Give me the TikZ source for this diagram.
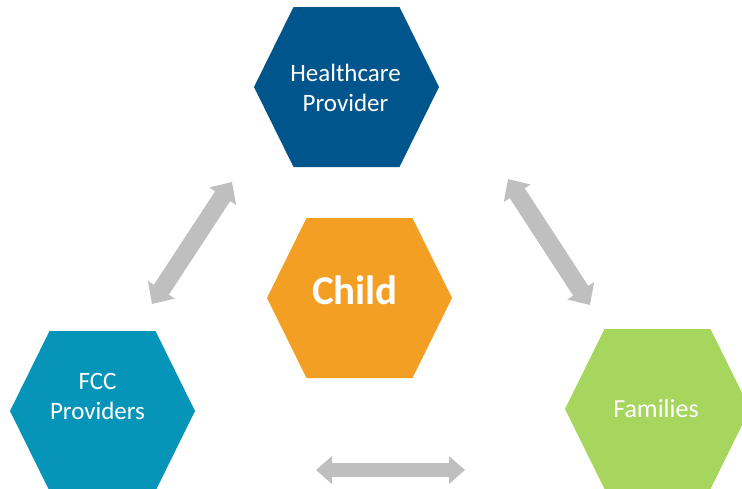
\documentclass[tikz,border=0pt]{standalone}
\usepackage{fontspec}
\setmainfont{Carlito}
\usetikzlibrary{arrows.meta}

\definecolor{hcblue}{RGB}{0,85,140}
\definecolor{fccteal}{RGB}{6,148,184}
\definecolor{childorange}{RGB}{242,159,35}
\definecolor{famgreen}{RGB}{167,214,95}
\definecolor{arrowgray}{RGB}{191,191,191}

% hexagon with centre (#1,#2), filled with #3
\newcommand{\hexfill}[3]{%
    \fill[#3] (#1,#2) ++(-92.5,0) -- ++(39.5,-80) -- ++(106,0)
        -- ++(39.5,80) -- ++(-39.5,80) -- ++(-106,0) -- cycle;}

\begin{document}
\begin{tikzpicture}[x=1pt,y=-1pt,
    hextext/.style={text=white, align=center, inner sep=0pt,
        font=\fontsize{25}{30}\selectfont},
    twoway/.style={draw=arrowgray, line width=14pt,
        {Triangle[length=16pt,width=27pt]}-{Triangle[length=16pt,width=27pt]}},
    slantway/.style={draw=arrowgray, line width=18pt,
        {Triangle[length=17pt,width=31pt]}-{Triangle[length=17pt,width=31pt]}}]
    \useasboundingbox (0,0) rectangle (742,488);

    % Draw Hexagons
    \hexfill{346.5}{87}{hcblue}
    \hexfill{359.5}{298}{childorange}
    \hexfill{102.5}{411}{fccteal}
    \hexfill{657.5}{409}{famgreen}

    % Hexagon Labels
    \node[hextext] (hc) at (345.5,87.5) {Healthcare\\Provider};
    \node[hextext, anchor=base, font=\fontsize{41}{48}\selectfont\bfseries]
        (child) at (355,304) {Child};
    \node[hextext] (fcc) at (97.5,396.5) {FCC\\Providers};
    \node[hextext, anchor=base, font=\fontsize{26}{30}\selectfont]
        (fam) at (656,417) {Families};

    % Arrow Ends
    \coordinate (fccend) at (152,304);
    \coordinate (hcleft) at (232,182);
    \coordinate (hcright) at (508,179);
    \coordinate (famend) at (590,305);
    \coordinate (botleft) at (316,470);
    \coordinate (botright) at (465,470);

    % Draw Arrows
    \draw[slantway] (fccend) -- (hcleft);
    \draw[slantway] (hcright) -- (famend);
    \draw[twoway] (botleft) -- (botright);
\end{tikzpicture}
\end{document}
